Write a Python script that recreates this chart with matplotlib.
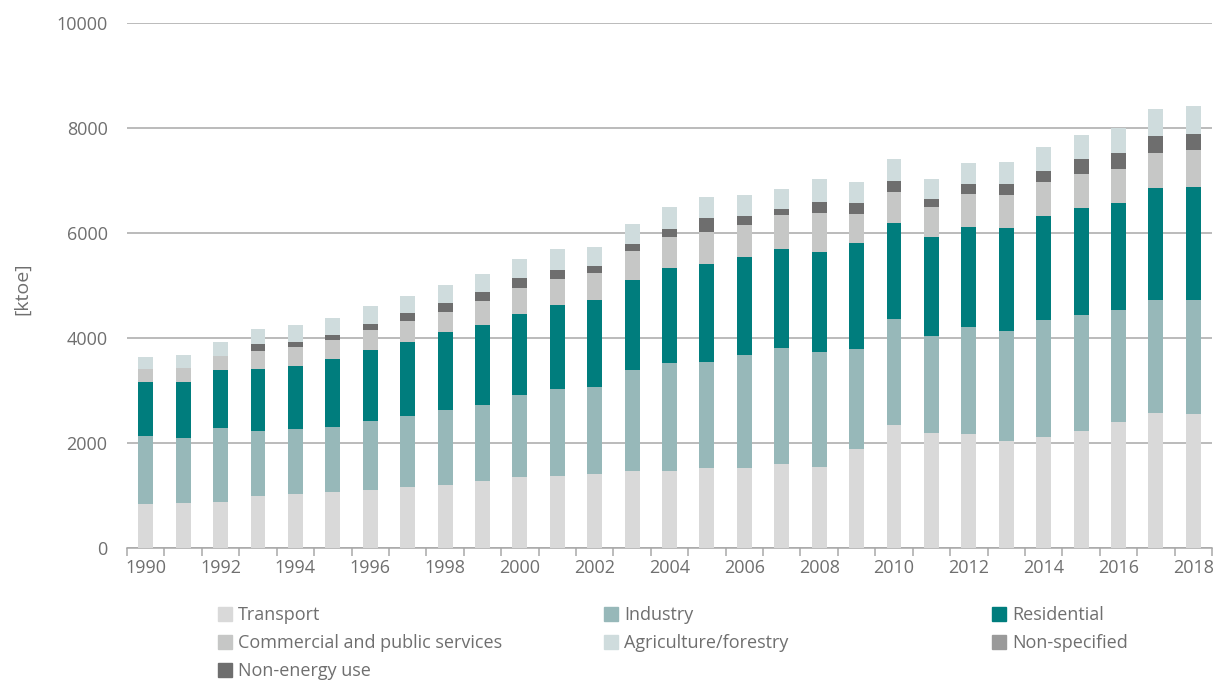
import matplotlib.pyplot as plt
import numpy as np
from matplotlib.patches import Rectangle

# Final energy consumption by sector [ktoe]
years = list(range(1990, 2019))

transport = [832, 857, 876, 991, 1034, 1067, 1105, 1168, 1206, 1282,
             1347, 1377, 1416, 1461, 1467, 1530, 1524, 1600, 1549, 1892,
             2343, 2185, 2166, 2044, 2115, 2235, 2394, 2578, 2559]
industry = [1307, 1244, 1404, 1244, 1227, 1238, 1314, 1341, 1423, 1442,
            1568, 1646, 1651, 1930, 2057, 2013, 2159, 2216, 2179, 1905,
            2019, 1854, 2044, 2090, 2228, 2198, 2146, 2153, 2172]
residential = [1023, 1067, 1111, 1181, 1212, 1289, 1359, 1421, 1486, 1530,
               1543, 1606, 1657, 1720, 1810, 1862, 1861, 1886, 1917, 2019,
               1829, 1886, 1905, 1956, 1987, 2050, 2038, 2127, 2152]
commercial = [248, 261, 267, 337, 350, 368, 375, 400, 387, 446,
              495, 501, 521, 547, 591, 609, 603, 642, 737, 553,
              597, 565, 623, 635, 642, 647, 642, 673, 699]
non_specified = [0] * 29
non_energy = [0, 0, 0, 139, 107, 96, 120, 153, 171, 171,
              185, 172, 133, 139, 158, 278, 178, 108, 209, 197,
              209, 164, 190, 203, 216, 275, 299, 324, 311]
agriculture = [234, 248, 260, 280, 318, 323, 331, 318, 337, 354,
               373, 388, 356, 375, 407, 400, 394, 387, 433, 406,
               413, 375, 406, 425, 445, 469, 488, 514, 533]

series = [
    ("Transport", transport, "#d9d9d9"),
    ("Industry", industry, "#97b8b9"),
    ("Residential", residential, "#007d7d"),
    ("Commercial and public services", commercial, "#c6c7c6"),
    ("Non-specified", non_specified, "#9a9a9a"),
    ("Non-energy use", non_energy, "#6e6e6e"),
    ("Agriculture/forestry", agriculture, "#cfdcdd"),
]

text_color = "#6f6f6f"
grid_color = "#a8a8a8"
plt.rcParams['font.family'] = ['Open Sans', 'DejaVu Sans']

fig = plt.figure(figsize=(12.17, 6.81), dpi=100)
ax = fig.add_axes([0.1044, 0.1953, 0.8915, 0.7709])

x = np.arange(len(years))
bottom = np.zeros(len(years))
for name, vals, color in series:
    vals = np.array(vals, dtype=float)
    ax.bar(x, vals, 0.4, bottom=bottom, color=color, label=name, zorder=3)
    bottom += vals

ax.set_xlim(-0.5, len(years) - 0.5)
ax.set_ylim(0, 10000)
ax.set_yticks(np.arange(0, 10001, 2000))
ax.yaxis.grid(True, color=grid_color, linewidth=1.1, zorder=0)
ax.tick_params(axis='y', length=0, pad=14, labelsize=13, labelcolor=text_color)

ax.set_xticks(x[::2])
ax.set_xticklabels([str(y) for y in years[::2]])
ax.set_xticks(np.arange(-0.5, len(years), 1.0), minor=True)
ax.tick_params(axis='x', which='major', length=0, pad=8, labelsize=13, labelcolor=text_color)
ax.tick_params(axis='x', which='minor', length=6, width=1.1, color=grid_color, direction='out')

for side in ['left', 'right', 'top']:
    ax.spines[side].set_visible(False)
ax.spines['bottom'].set_color(grid_color)
ax.spines['bottom'].set_linewidth(1.1)

fig.text(22 / 1217, 1 - 289 / 681, "[ktoe]", rotation=90, ha='center', va='center',
         fontsize=14, color=text_color)

# legend, laid out in three columns like the reference
legend_order = [0, 1, 2, 3, 6, 4, 5]
col_x = [218, 604, 992]
row_y = [614, 642, 670]
W, H = 1217, 681
for i, idx in enumerate(legend_order):
    name, _, color = series[idx]
    cx = col_x[i % 3]
    cy = row_y[i // 3]
    fig.patches.append(Rectangle((cx / W, 1 - (cy + 7) / H), 14 / W, 14 / H,
                                 transform=fig.transFigure, color=color))
    fig.text((cx + 20) / W, 1 - (cy + 1) / H, name, ha='left', va='center',
             fontsize=13, color=text_color)

fig.savefig("out.png", dpi=100)
